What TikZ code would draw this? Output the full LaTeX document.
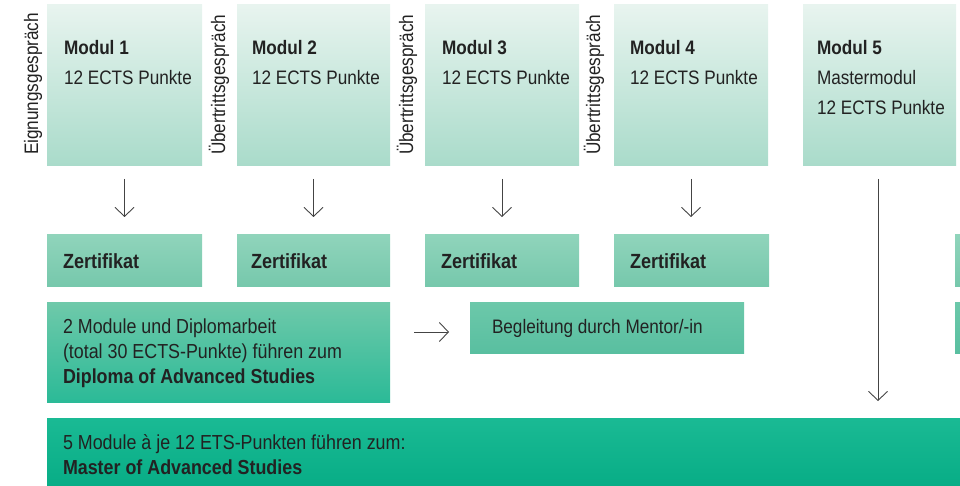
\documentclass[tikz,border=0pt]{standalone}
\usepackage{fontspec}
\setmainfont{Liberation Sans}[FakeStretch=0.88]
\usetikzlibrary{arrows.meta,calc}
\definecolor{modtop}{HTML}{E8F4EF}
\definecolor{modbot}{HTML}{A9DBCA}
\definecolor{zertop}{HTML}{90D4BB}
\definecolor{zerbot}{HTML}{76C8AC}
\definecolor{diptop}{HTML}{6FC9AA}
\definecolor{dipbot}{HTML}{2BBA97}
\definecolor{begtop}{HTML}{6CC8AA}
\definecolor{begbot}{HTML}{59BFA0}
\definecolor{mastop}{HTML}{1ABA94}
\definecolor{masbot}{HTML}{08AD86}
\definecolor{textc}{HTML}{222222}
\definecolor{arrc}{HTML}{444444}
\tikzset{
  box/.style={rectangle, draw=none, inner sep=0, outer sep=0, anchor=north west},
  modbox/.style={box, top color=modtop, bottom color=modbot},
  zerbox/.style={box, top color=zertop, bottom color=zerbot, minimum height=51},
  txt/.style={anchor=base west, inner sep=0, outer sep=0, align=left, text=textc,
    font=\fontsize{19.5}{30}\selectfont},
  txtz/.style={txt, font=\fontsize{20.5}{30}\selectfont},
  txtb/.style={txt, font=\fontsize{20.3}{25}\selectfont},
  side/.style={txt, rotate=90},
  arr/.style={draw=arrc, line width=0.9pt, -{Straight Barb[length=9pt,width=19pt,line width=0.9pt]}},
}
\begin{document}
\begin{tikzpicture}[x=1pt,y=-1pt]
\useasboundingbox (0,0) rectangle (960,486);
% module boxes
\node[modbox, minimum width=155, minimum height=161] (m1) at (47,5) {};
\node[modbox, minimum width=153, minimum height=161] (m2) at (237,5) {};
\node[modbox, minimum width=154, minimum height=161] (m3) at (425,5) {};
\node[modbox, minimum width=154, minimum height=161] (m4) at (614,5) {};
\node[modbox, minimum width=153, minimum height=161] (m5) at (803,5) {};
\node[txt] (t1) at (64,85) {\textbf{Modul 1}\\12 ECTS Punkte};
\node[txt] (t2) at (252,85) {\textbf{Modul 2}\\12 ECTS Punkte};
\node[txt] (t3) at (442,85) {\textbf{Modul 3}\\12 ECTS Punkte};
\node[txt] (t4) at (630,85) {\textbf{Modul 4}\\12 ECTS Punkte};
\node[txt] (t5) at (817,115) {\textbf{Modul 5}\\Mastermodul\\12 ECTS Punkte};
% side labels
\node[side] (s1) at (38,155) {Eignungsgespräch};
\node[side] (s2) at (225,155) {Übertrittsgespräch};
\node[side] (s3) at (413,155) {Übertrittsgespräch};
\node[side] (s4) at (600,155) {Übertrittsgespräch};
% certificates
\node[zerbox, minimum width=155] (z1) at (47,235) {};
\node[zerbox, minimum width=153] (z2) at (237,235) {};
\node[zerbox, minimum width=154] (z3) at (425,235) {};
\node[zerbox, minimum width=155] (z4) at (614,235) {};
\node[zerbox, minimum width=10] (z5) at (955,235) {};
\node[txtz] at (63,268) {\textbf{Zertifikat}};
\node[txtz] at (251,268) {\textbf{Zertifikat}};
\node[txtz] at (441,268) {\textbf{Zertifikat}};
\node[txtz] at (630,268) {\textbf{Zertifikat}};
% diploma
\node[box, top color=diptop, bottom color=dipbot, minimum width=343, minimum height=100] (dip) at (47,302) {};
\node[txtb] at (63,383) {2 Module und Diplomarbeit\\(total 30 ECTS-Punkte) führen zum\\\textbf{Diploma of Advanced Studies}};
% mentor
\node[box, top color=begtop, bottom color=begbot, minimum width=274, minimum height=51] (beg) at (470,302) {};
\node[box, top color=begtop, bottom color=begbot, minimum width=10, minimum height=51] (beg2) at (955,302) {};
\node[txt] at (492,333) {Begleitung durch Mentor/-in};
% master
\node[box, top color=mastop, bottom color=masbot, minimum width=913, minimum height=68] (mas) at (47,418) {};
\node[txtb] at (63,474) {5 Module à je 12 ETS-Punkten führen zum:\\\textbf{Master of Advanced Studies}};
% arrows
\foreach \i in {1,2,3,4}{
  \draw[arr, shorten <=13pt, shorten >=18pt] (m\i.south) -- (z\i.north -| m\i.south);
}
\draw[arr, shorten <=13pt, shorten >=17pt] ([xshift=-1.5pt]m5.south) -- ([xshift=-1.5pt]m5.south |- mas.north);
\draw[arr, shorten <=24pt, shorten >=21pt] ([yshift=-4.5pt]dip.east |- beg.west) -- ([yshift=-4.5pt]beg.west);
\end{tikzpicture}
\end{document}
